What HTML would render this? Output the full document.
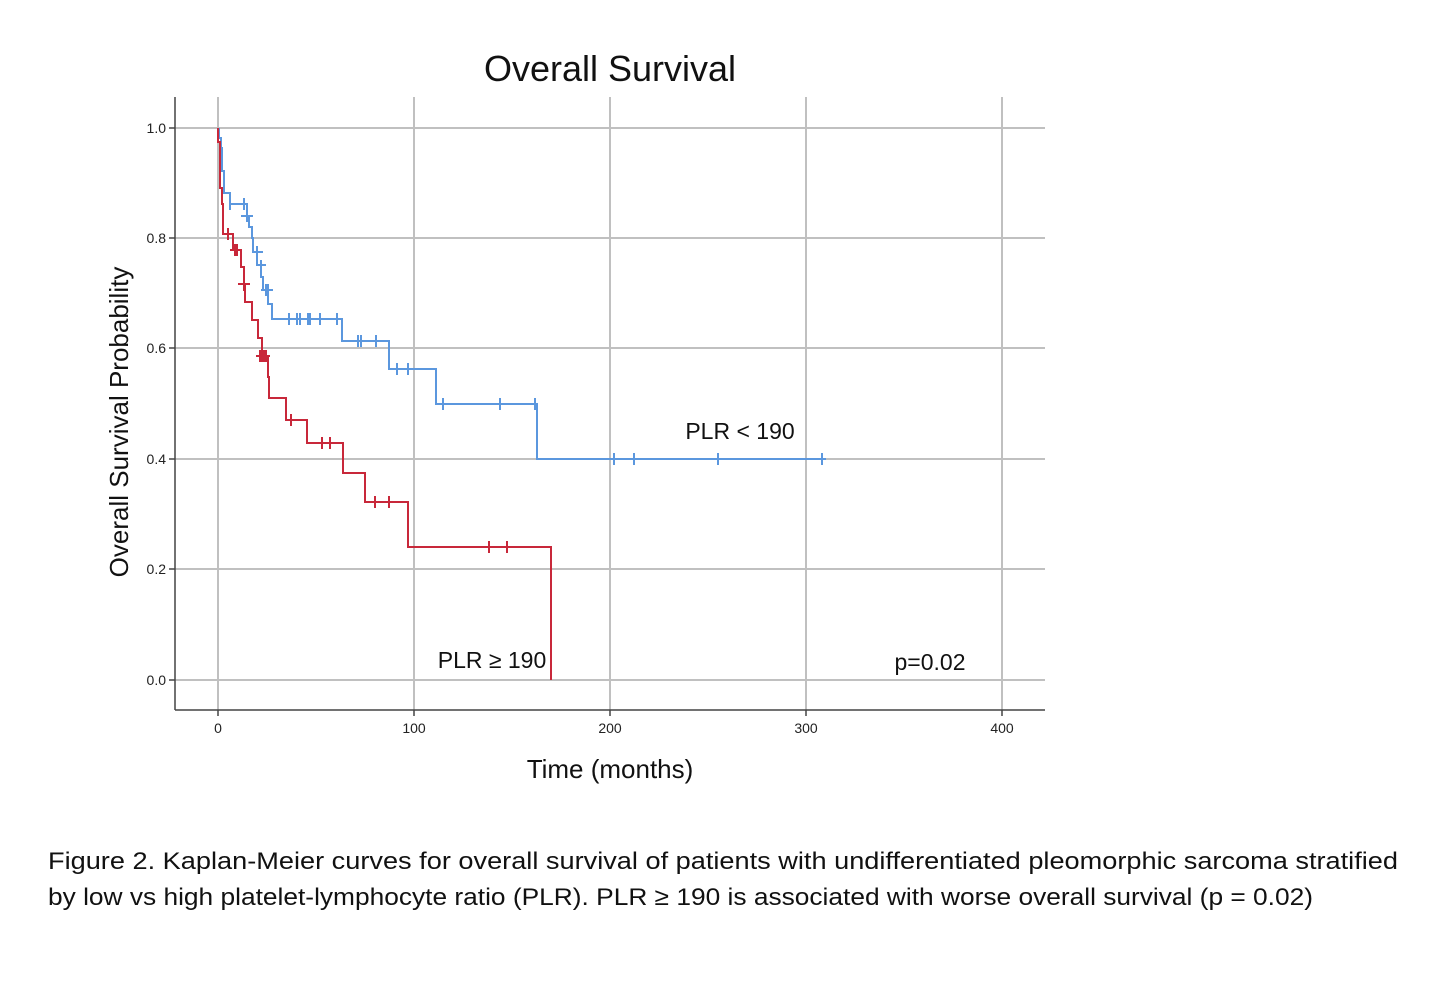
<!DOCTYPE html>
<html><head><meta charset="utf-8"><style>
html,body{margin:0;padding:0;background:#fff;}
svg{display:block}
</style></head><body>
<svg width="1450" height="982" viewBox="0 0 1450 982" xmlns="http://www.w3.org/2000/svg" font-family="Liberation Sans, sans-serif">
<g stroke="#c0c0c0" stroke-width="2" fill="none">
<line x1="175" y1="128" x2="1045" y2="128"/>
<line x1="175" y1="238" x2="1045" y2="238"/>
<line x1="175" y1="348" x2="1045" y2="348"/>
<line x1="175" y1="459" x2="1045" y2="459"/>
<line x1="175" y1="569" x2="1045" y2="569"/>
<line x1="175" y1="680" x2="1045" y2="680"/>
<line x1="218" y1="97" x2="218" y2="710"/>
<line x1="414" y1="97" x2="414" y2="710"/>
<line x1="610" y1="97" x2="610" y2="710"/>
<line x1="806" y1="97" x2="806" y2="710"/>
<line x1="1002" y1="97" x2="1002" y2="710"/>
</g>
<g stroke="#444" stroke-width="1.5">
<line x1="175" y1="97" x2="175" y2="710"/>
<line x1="175" y1="710" x2="1045" y2="710"/>
<line x1="169" y1="128" x2="175" y2="128"/><line x1="169" y1="238" x2="175" y2="238"/><line x1="169" y1="348" x2="175" y2="348"/><line x1="169" y1="459" x2="175" y2="459"/><line x1="169" y1="569" x2="175" y2="569"/><line x1="169" y1="680" x2="175" y2="680"/>
<line x1="218" y1="710" x2="218" y2="716"/><line x1="414" y1="710" x2="414" y2="716"/><line x1="610" y1="710" x2="610" y2="716"/><line x1="806" y1="710" x2="806" y2="716"/><line x1="1002" y1="710" x2="1002" y2="716"/>
</g>
<g font-size="14" fill="#222" text-anchor="end">
<text x="166" y="133">1.0</text><text x="166" y="243">0.8</text><text x="166" y="353">0.6</text><text x="166" y="464">0.4</text><text x="166" y="574">0.2</text><text x="166" y="685">0.0</text>
</g>
<g font-size="14" fill="#222" text-anchor="middle">
<text x="218" y="733">0</text><text x="414" y="733">100</text><text x="610" y="733">200</text><text x="806" y="733">300</text><text x="1002" y="733">400</text>
</g>
<text x="610" y="81" font-size="36" text-anchor="middle" fill="#111">Overall Survival</text>
<text x="610" y="778" font-size="26" text-anchor="middle" fill="#111">Time (months)</text>
<text transform="translate(128,422) rotate(-90)" font-size="26" text-anchor="middle" fill="#111">Overall Survival Probability</text>
<text x="740" y="439" font-size="23" text-anchor="middle" fill="#111">PLR &lt; 190</text>
<text x="492" y="668" font-size="23" text-anchor="middle" fill="#111">PLR ≥ 190</text>
<text x="930" y="670" font-size="23" text-anchor="middle" fill="#111">p=0.02</text>
<polyline fill="none" stroke="#5b97de" stroke-width="2" points="219,128 219,138 221,138 221,148 222,148 222,171 224,171 224,193 230,193 230,204 247,204 247,216 249,216 249,227 252,227 252,238 253,238 253,252 257,252 257,265 261,265 261,277 263,277 263,290 268,290 268,304 272,304 272,319 342,319 342,341 389,341 389,369 436,369 436,404 537,404 537,459 826,459"/>
<g stroke="#5b97de" stroke-width="2">
<line x1="230" y1="198" x2="230" y2="210"/><line x1="244" y1="198" x2="244" y2="210"/><line x1="247" y1="210" x2="247" y2="222"/><line x1="241" y1="216" x2="253" y2="216"/><line x1="257" y1="246" x2="257" y2="258"/><line x1="253" y1="252" x2="263" y2="252"/><line x1="261" y1="260" x2="261" y2="272"/><line x1="256" y1="265" x2="266" y2="265"/><line x1="266" y1="284" x2="266" y2="296"/><line x1="268" y1="284" x2="268" y2="296"/><line x1="261" y1="290" x2="273" y2="290"/>
<line x1="289" y1="313" x2="289" y2="325"/><line x1="297" y1="313" x2="297" y2="325"/><line x1="300" y1="313" x2="300" y2="325"/><line x1="308" y1="313" x2="308" y2="325"/><line x1="310" y1="313" x2="310" y2="325"/><line x1="320" y1="313" x2="320" y2="325"/><line x1="337" y1="313" x2="337" y2="325"/>
<line x1="358" y1="335" x2="358" y2="347"/><line x1="361" y1="335" x2="361" y2="347"/><line x1="376" y1="335" x2="376" y2="347"/>
<line x1="397" y1="363" x2="397" y2="375"/><line x1="408" y1="363" x2="408" y2="375"/>
<line x1="443" y1="398" x2="443" y2="410"/><line x1="500" y1="398" x2="500" y2="410"/><line x1="535" y1="398" x2="535" y2="410"/>
<line x1="614" y1="453" x2="614" y2="465"/><line x1="634" y1="453" x2="634" y2="465"/><line x1="718" y1="453" x2="718" y2="465"/><line x1="822" y1="453" x2="822" y2="465"/>
</g>
<polyline fill="none" stroke="#c8283a" stroke-width="2" points="218,128 218,142 220,142 220,188 222,188 222,204 223,204 223,234 233,234 233,250 241,250 241,267 244,267 244,284 245,284 245,302 252,302 252,320 258,320 258,338 262,338 262,356 268,356 268,377 269,377 269,398 286,398 286,420 307,420 307,443 343,443 343,473 365,473 365,502 408,502 408,547 551,547 551,680"/>
<g stroke="#c8283a" stroke-width="2">
<line x1="228" y1="228" x2="228" y2="240"/><line x1="235" y1="244" x2="235" y2="256"/><line x1="237" y1="244" x2="237" y2="256"/><line x1="230" y1="250" x2="240" y2="250"/><line x1="244" y1="279" x2="244" y2="291"/><line x1="238" y1="284" x2="250" y2="284"/>
<line x1="260" y1="350" x2="260" y2="362"/><line x1="262" y1="350" x2="262" y2="362"/><line x1="264" y1="350" x2="264" y2="362"/><line x1="266" y1="350" x2="266" y2="362"/><line x1="256" y1="356" x2="270" y2="356"/>
<line x1="291" y1="414" x2="291" y2="426"/><line x1="322" y1="437" x2="322" y2="449"/><line x1="330" y1="437" x2="330" y2="449"/>
<line x1="375" y1="496" x2="375" y2="508"/><line x1="389" y1="496" x2="389" y2="508"/>
<line x1="489" y1="541" x2="489" y2="553"/><line x1="507" y1="541" x2="507" y2="553"/>
</g>
<text x="48" y="869" font-size="24.5" fill="#111" textLength="1350" lengthAdjust="spacingAndGlyphs">Figure 2. Kaplan-Meier curves for overall survival of patients with undifferentiated pleomorphic sarcoma stratified</text>
<text x="48" y="905" font-size="24.5" fill="#111" textLength="1265" lengthAdjust="spacingAndGlyphs">by low vs high platelet-lymphocyte ratio (PLR). PLR ≥ 190 is associated with worse overall survival (p = 0.02)</text>
</svg>
</body></html>
